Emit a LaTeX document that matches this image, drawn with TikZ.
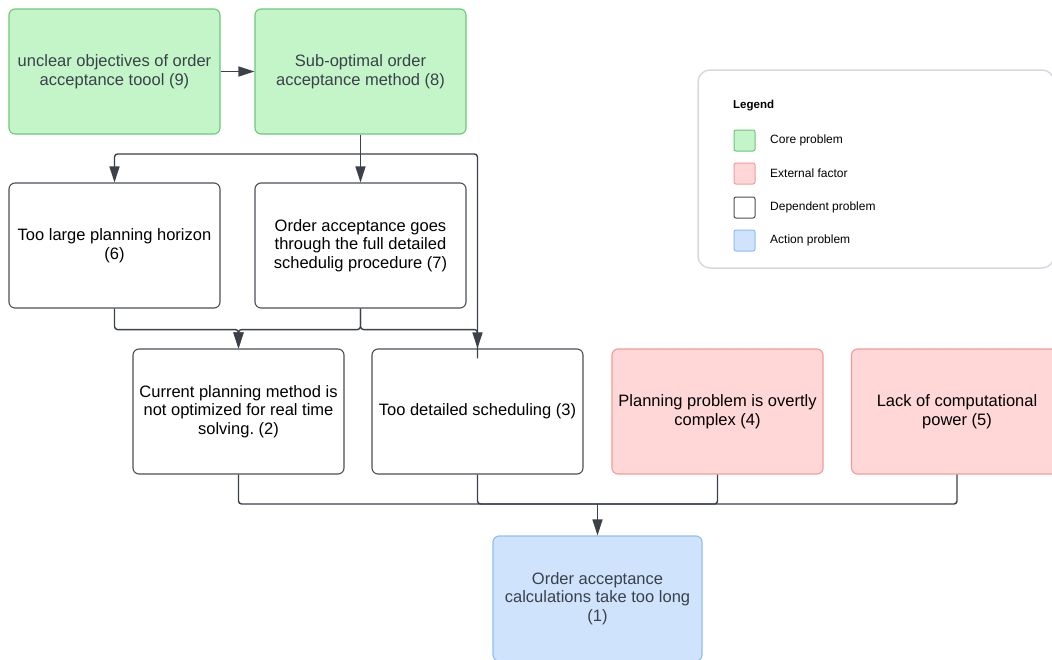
\documentclass[tikz,border=0pt]{standalone}
\usepackage{fontspec}
\setmainfont{Liberation Sans}
\frenchspacing
\usetikzlibrary{arrows.meta}
\definecolor{coreFill}{HTML}{C3F5C8}
\definecolor{coreLine}{HTML}{6CC77B}
\definecolor{extFill}{HTML}{FFD7D7}
\definecolor{extLine}{HTML}{F39A9A}
\definecolor{actFill}{HTML}{CFE3FD}
\definecolor{actLine}{HTML}{8DBDF3}
\definecolor{depLine}{HTML}{4A4F57}
\definecolor{wire}{HTML}{3B4049}
\definecolor{softText}{HTML}{3A414A}
\definecolor{legLine}{HTML}{D6DAE0}
\tikzset{
  box/.style={rectangle, rounded corners=6pt, minimum width=211pt, minimum height=125pt,
    align=center, line width=1.1pt, inner sep=0pt,
    font=\fontsize{16.5}{18.6}\selectfont},
  core/.style={box, draw=coreLine, fill=coreFill, text=softText},
  ext/.style={box, draw=extLine, fill=extFill, text=black},
  dep/.style={box, draw=depLine, fill=white, text=black},
  act/.style={box, draw=actLine, fill=actFill, text=softText},
  wireline/.style={draw=wire, line width=1.4pt, rounded corners=3pt},
  arr/.style={wireline, -{Triangle[length=16pt,width=10pt]}},
  swatch/.style={rectangle, rounded corners=2pt, minimum width=21pt, minimum height=21pt, line width=1pt, inner sep=0pt},
  legtext/.style={anchor=west, font=\fontsize{12}{14}\selectfont, inner sep=0pt}
}
\begin{document}
\begin{tikzpicture}[x=1pt,y=-1pt]
\useasboundingbox (0,0) rectangle (1052,659);
\clip (0,0) rectangle (1052,659);

% problem boxes
\node[core] (n9) at (114.5,71.5) {unclear objectives of order\\acceptance toool (9)};
\node[core] (n8) at (360.5,71.5) {Sub-optimal order\\acceptance method (8)};
\node[dep]  (n6) at (114.5,245.5) {Too large planning horizon\\(6)};
\node[dep]  (n7) at (360.5,245.5) {Order acceptance goes\\through the full detailed\\schedulig procedure (7)};
\node[dep]  (n2) at (238.5,411.5) {Current planning method is\\not optimized for real time\\solving. (2)};
\node[dep]  (n3) at (477.5,411.5) {Too detailed scheduling (3)};
\node[ext]  (n4) at (717.5,411.5) {Planning problem is overtly\\complex (4)};
\node[ext]  (n5) at (957.0,411.5) {Lack of computational\\power (5)};
\node[act, minimum width=209pt] (n1) at (597.5,598.5) {Order acceptance\\calculations take too long\\(1)};

% junction points of the connectors
\coordinate (j8) at (360.5,154);
\coordinate (j1) at (597.5,504);

% connectors
\draw[arr] (n9.east) -- (n8.west);
\draw[wireline] (n8.south) -- (j8);
\draw[arr] (n8.south) -- (n7.north);
\draw[arr] (j8) -| (n6.north);
\draw[arr] (j8) -| (n3.north);
\draw[arr] (n6.south) -- ++(0,21) -| (n2.north);
\draw[arr] (n7.south) -- ++(0,21) -| (n2.north);
\draw[wireline] (n7.south) -- ++(0,21) -| ([yshift=-10pt]n3.north);
\draw[wireline] (n2.south) |- (j1);
\draw[wireline] (n3.south) |- (j1);
\draw[wireline] (n4.south) |- (j1);
\draw[wireline] (n5.south) |- (j1);
\draw[arr] (j1) -- (n1.north);

% legend
\node[draw=legLine, line width=1.5pt, rounded corners=12pt, fill=white,
      minimum width=356pt, minimum height=198pt, inner sep=0pt] (legend) at (876,169) {};
\node[legtext, font=\fontsize{11.5}{13}\selectfont\bfseries] (legtitle) at (733,106) {Legend};
\node[swatch, draw=coreLine, fill=coreFill] (sw1) at (744.5,140.5) {};
\node[swatch, draw=extLine, fill=extFill] (sw2) at (744.5,173.5) {};
\node[swatch, draw=depLine, fill=white] (sw3) at (744.5,207.5) {};
\node[swatch, draw=actLine, fill=actFill] (sw4) at (744.5,240.5) {};
\node[legtext] (lt1) at (770,140) {Core problem};
\node[legtext] (lt2) at (770,173) {External factor};
\node[legtext] (lt3) at (770,207) {Dependent problem};
\node[legtext] (lt4) at (770,240) {Action problem};
\end{tikzpicture}
\end{document}
